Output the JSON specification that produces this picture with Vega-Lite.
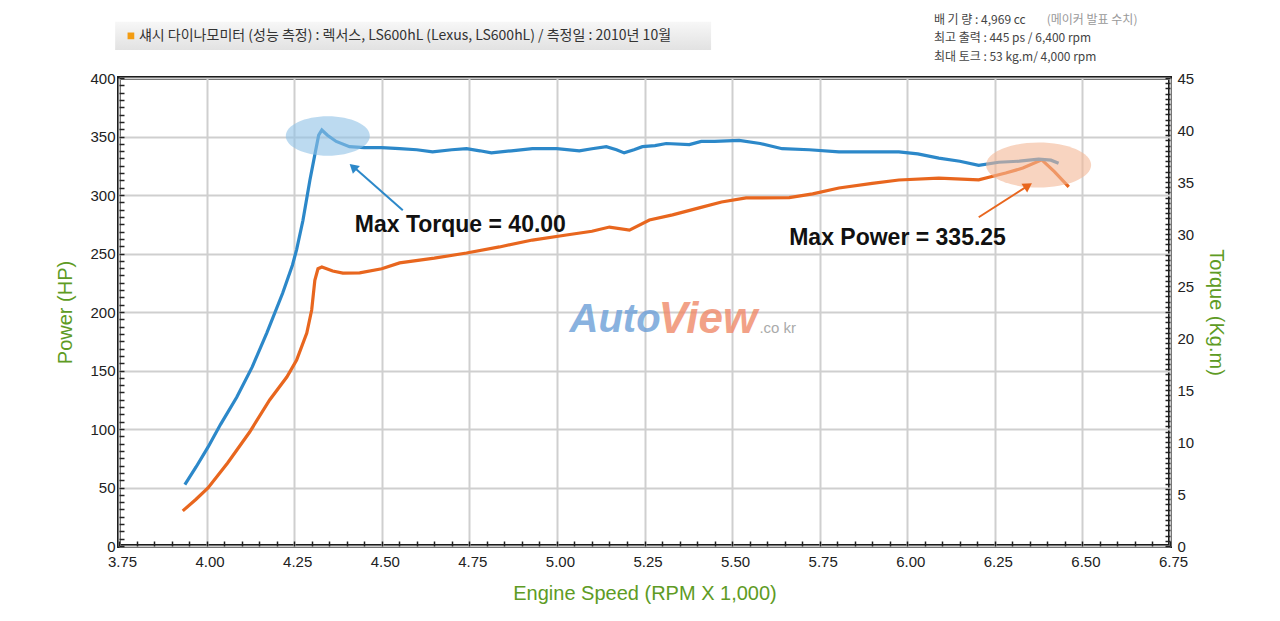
{
  "$schema": "https://vega.github.io/schema/vega-lite/v6.json",
  "width": 1051,
  "height": 468,
  "autosize": "none",
  "padding": {"left": 119, "top": 78, "right": 110, "bottom": 75},
  "background": "white",
  "config": {
    "view": {"stroke": "#1c1c1c", "strokeWidth": 4},
    "font": "Liberation Sans",
    "axis": {
      "labelFont": "Liberation Sans",
      "labelFontSize": 15,
      "labelColor": "#222",
      "labelOverlap": false,
      "labelFlush": false,
      "titleFont": "Liberation Sans",
      "titleFontSize": 20,
      "titleFontWeight": "normal",
      "titleColor": "#5e9b24",
      "domain": false,
      "tickColor": "#222",
      "tickWidth": 1.5,
      "tickSize": -5,
      "gridColor": "#cfcfcf",
      "gridWidth": 2
    }
  },
  "datasets": {
    "torque": [
      {"rpm": 3.938, "torque": 5.9}, {"rpm": 3.97, "torque": 7.6}, {"rpm": 4.004, "torque": 9.5},
      {"rpm": 4.04, "torque": 11.7}, {"rpm": 4.086, "torque": 14.3}, {"rpm": 4.13, "torque": 17.2},
      {"rpm": 4.172, "torque": 20.5}, {"rpm": 4.217, "torque": 24.3}, {"rpm": 4.245, "torque": 27.0},
      {"rpm": 4.257, "torque": 28.5}, {"rpm": 4.275, "torque": 31.3}, {"rpm": 4.295, "torque": 35.2},
      {"rpm": 4.31, "torque": 37.8}, {"rpm": 4.32, "torque": 39.5}, {"rpm": 4.329, "torque": 40.0},
      {"rpm": 4.345, "torque": 39.5}, {"rpm": 4.37, "torque": 38.9}, {"rpm": 4.408, "torque": 38.4},
      {"rpm": 4.45, "torque": 38.3}, {"rpm": 4.5, "torque": 38.3}, {"rpm": 4.551, "torque": 38.2},
      {"rpm": 4.6, "torque": 38.1}, {"rpm": 4.645, "torque": 37.9}, {"rpm": 4.7, "torque": 38.1},
      {"rpm": 4.742, "torque": 38.2}, {"rpm": 4.78, "torque": 38.0}, {"rpm": 4.813, "torque": 37.8},
      {"rpm": 4.87, "torque": 38.0}, {"rpm": 4.93, "torque": 38.2}, {"rpm": 5.0, "torque": 38.2},
      {"rpm": 5.064, "torque": 38.0}, {"rpm": 5.1, "torque": 38.2}, {"rpm": 5.141, "torque": 38.4},
      {"rpm": 5.17, "torque": 38.1}, {"rpm": 5.192, "torque": 37.8}, {"rpm": 5.22, "torque": 38.1},
      {"rpm": 5.244, "torque": 38.4}, {"rpm": 5.28, "torque": 38.5}, {"rpm": 5.312, "torque": 38.7},
      {"rpm": 5.378, "torque": 38.6}, {"rpm": 5.412, "torque": 38.9}, {"rpm": 5.45, "torque": 38.9},
      {"rpm": 5.52, "torque": 39.0}, {"rpm": 5.58, "torque": 38.7}, {"rpm": 5.643, "torque": 38.2},
      {"rpm": 5.72, "torque": 38.1}, {"rpm": 5.805, "torque": 37.9}, {"rpm": 5.9, "torque": 37.9},
      {"rpm": 5.976, "torque": 37.9}, {"rpm": 6.03, "torque": 37.7}, {"rpm": 6.09, "torque": 37.3},
      {"rpm": 6.15, "torque": 37.0}, {"rpm": 6.204, "torque": 36.6}, {"rpm": 6.261, "torque": 36.9},
      {"rpm": 6.32, "torque": 37.0}, {"rpm": 6.375, "torque": 37.2}, {"rpm": 6.41, "torque": 37.1},
      {"rpm": 6.432, "torque": 36.8}
    ],
    "power": [
      {"rpm": 3.932, "hp": 30}, {"rpm": 3.97, "hp": 40}, {"rpm": 4.004, "hp": 49.6},
      {"rpm": 4.06, "hp": 71}, {"rpm": 4.123, "hp": 97.4}, {"rpm": 4.18, "hp": 124.8},
      {"rpm": 4.229, "hp": 144.4}, {"rpm": 4.257, "hp": 159}, {"rpm": 4.286, "hp": 182},
      {"rpm": 4.3, "hp": 201.7}, {"rpm": 4.309, "hp": 227}, {"rpm": 4.318, "hp": 237},
      {"rpm": 4.329, "hp": 238.5}, {"rpm": 4.36, "hp": 235}, {"rpm": 4.389, "hp": 233.3},
      {"rpm": 4.437, "hp": 233.5}, {"rpm": 4.5, "hp": 237}, {"rpm": 4.551, "hp": 242},
      {"rpm": 4.65, "hp": 246}, {"rpm": 4.742, "hp": 250.4}, {"rpm": 4.836, "hp": 255.6},
      {"rpm": 4.93, "hp": 261.5}, {"rpm": 5.027, "hp": 265.8}, {"rpm": 5.1, "hp": 269},
      {"rpm": 5.15, "hp": 272.6}, {"rpm": 5.207, "hp": 270}, {"rpm": 5.264, "hp": 278.6},
      {"rpm": 5.33, "hp": 283}, {"rpm": 5.406, "hp": 289}, {"rpm": 5.47, "hp": 294},
      {"rpm": 5.54, "hp": 297.5}, {"rpm": 5.663, "hp": 297.8}, {"rpm": 5.73, "hp": 301},
      {"rpm": 5.805, "hp": 306}, {"rpm": 5.9, "hp": 310}, {"rpm": 5.976, "hp": 312.8},
      {"rpm": 6.09, "hp": 314.5}, {"rpm": 6.204, "hp": 313}, {"rpm": 6.25, "hp": 316.5},
      {"rpm": 6.281, "hp": 318.8}, {"rpm": 6.33, "hp": 323}, {"rpm": 6.384, "hp": 330},
      {"rpm": 6.42, "hp": 320}, {"rpm": 6.461, "hp": 307}
    ]
  },
  "resolve": {"scale": {"y": "independent"}},
  "layer": [
    {
      "encoding": {
        "x": {
          "field": "rpm", "type": "quantitative",
          "scale": {"domain": [3.75, 6.75], "nice": false, "zero": false},
          "axis": {
            "title": "Engine Speed (RPM X 1,000)",
            "values": [3.75,3.8,3.85,3.9,3.95,4,4.05,4.1,4.15,4.2,4.25,4.3,4.35,4.4,4.45,4.5,4.55,4.6,4.65,4.7,4.75,4.8,4.85,4.9,4.95,5,5.05,5.1,5.15,5.2,5.25,5.3,5.35,5.4,5.45,5.5,5.55,5.6,5.65,5.7,5.75,5.8,5.85,5.9,5.95,6,6.05,6.1,6.15,6.2,6.25,6.3,6.35,6.4,6.45,6.5,6.55,6.6,6.65,6.7,6.75],
            "labelExpr": "round(datum.value*100) % 25 == 0 ? format(datum.value, '.2f') : ''",
            "grid": true,
            "gridOpacity": {"condition": {"test": "round(datum.value*100) % 25 == 0", "value": 1}, "value": 0},
            "labelPadding": 13,
            "labelOffset": 3,
            "titlePadding": 14
          }
        },
        "y": {
          "field": "hp", "type": "quantitative",
          "scale": {"domain": [0, 400], "nice": false},
          "axis": {
            "orient": "left",
            "title": "Power (HP)",
            "values": [0,6.25,12.5,18.75,25,31.25,37.5,43.75,50,56.25,62.5,68.75,75,81.25,87.5,93.75,100,106.25,112.5,118.75,125,131.25,137.5,143.75,150,156.25,162.5,168.75,175,181.25,187.5,193.75,200,206.25,212.5,218.75,225,231.25,237.5,243.75,250,256.25,262.5,268.75,275,281.25,287.5,293.75,300,306.25,312.5,318.75,325,331.25,337.5,343.75,350,356.25,362.5,368.75,375,381.25,387.5,393.75,400],
            "labelExpr": "datum.value % 50 == 0 ? format(datum.value, 'd') : ''",
            "grid": true,
            "gridOpacity": {"condition": {"test": "datum.value % 50 == 0", "value": 1}, "value": 0},
            "labelPadding": 9,
            "titlePadding": 14
          }
        }
      },
      "layer": [
        {
          "data": {"values": [{"rpm": 3.739, "rpm2": 5.44, "hp": 448, "hp2": 424}]},
          "mark": {"type": "rect", "fill": {"gradient": "linear", "x1": 0, "y1": 0, "x2": 0, "y2": 1, "stops": [{"offset": 0, "color": "#f7f7f7"}, {"offset": 1, "color": "#e2e2e2"}]}},
          "encoding": {"x2": {"field": "rpm2"}, "y2": {"field": "hp2"}}
        },
        {
          "data": {"values": [{"rpm": 3.784, "hp": 436}]},
          "mark": {"type": "point", "shape": "square", "filled": true, "color": "#f39c12", "size": 45, "opacity": 1}
        },
        {
          "data": {"values": [{"rpm": 3.807, "hp": 436, "label": "섀시 다이나모미터 (성능 측정)  :  렉서스, LS600hL (Lexus, LS600hL) / 측정일 : 2010년 10월"}]},
          "mark": {"type": "text", "align": "left", "baseline": "middle", "font": "Noto Sans CJK KR", "fontSize": 14, "color": "#333"},
          "encoding": {"text": {"field": "label"}}
        },
        {
          "data": {"values": [
            {"rpm": 6.076, "hp": 449.6, "label": "배  기  량 : 4,969 cc"},
            {"rpm": 6.076, "hp": 434, "label": "최고 출력 : 445 ps / 6,400 rpm"},
            {"rpm": 6.076, "hp": 418, "label": "최대 토크 : 53 kg.m/ 4,000 rpm"}
          ]},
          "mark": {"type": "text", "align": "left", "baseline": "middle", "font": "Noto Sans CJK KR", "fontSize": 12, "color": "#444"},
          "encoding": {"text": {"field": "label"}}
        },
        {
          "data": {"values": [{"rpm": 6.398, "hp": 449.6, "label": "(메이커 발표 수치)"}]},
          "mark": {"type": "text", "align": "left", "baseline": "middle", "font": "Noto Sans CJK KR", "fontSize": 12, "color": "#999"},
          "encoding": {"text": {"field": "label"}}
        },
        {
          "data": {"values": [{"rpm": 5.036, "hp": 193, "label": "Auto"}]},
          "mark": {"type": "text", "align": "left", "baseline": "middle", "fontSize": 40, "fontWeight": "bold", "fontStyle": "italic", "color": "#6c9fd8", "opacity": 0.8},
          "encoding": {"text": {"field": "label"}}
        },
        {
          "data": {"values": [{"rpm": 5.29, "hp": 193, "label": "View"}]},
          "mark": {"type": "text", "align": "left", "baseline": "middle", "fontSize": 44, "fontWeight": "bold", "fontStyle": "italic", "color": "#f08a6a", "opacity": 0.8},
          "encoding": {"text": {"field": "label"}}
        },
        {
          "data": {"values": [{"rpm": 5.578, "hp": 186, "label": ".co kr"}]},
          "mark": {"type": "text", "align": "left", "baseline": "middle", "fontSize": 15, "color": "#aaa"},
          "encoding": {"text": {"field": "label"}}
        },
        {
          "data": {"name": "power"},
          "mark": {"type": "line", "color": "#e8661e", "strokeWidth": 3.2}
        }
      ]
    },
    {
      "data": {"name": "torque"},
      "mark": {"type": "line", "color": "#2c88c9", "strokeWidth": 3.2},
      "encoding": {
        "x": {
          "field": "rpm", "type": "quantitative",
          "scale": {"domain": [3.75, 6.75], "nice": false, "zero": false},
          "axis": {
            "title": "Engine Speed (RPM X 1,000)",
            "values": [3.75,3.8,3.85,3.9,3.95,4,4.05,4.1,4.15,4.2,4.25,4.3,4.35,4.4,4.45,4.5,4.55,4.6,4.65,4.7,4.75,4.8,4.85,4.9,4.95,5,5.05,5.1,5.15,5.2,5.25,5.3,5.35,5.4,5.45,5.5,5.55,5.6,5.65,5.7,5.75,5.8,5.85,5.9,5.95,6,6.05,6.1,6.15,6.2,6.25,6.3,6.35,6.4,6.45,6.5,6.55,6.6,6.65,6.7,6.75],
            "labelExpr": "round(datum.value*100) % 25 == 0 ? format(datum.value, '.2f') : ''",
            "grid": true,
            "gridOpacity": {"condition": {"test": "round(datum.value*100) % 25 == 0", "value": 1}, "value": 0},
            "labelPadding": 13,
            "labelOffset": 3,
            "titlePadding": 14
          }
        },
        "y": {
          "field": "torque", "type": "quantitative",
          "scale": {"domain": [0, 45], "nice": false},
          "axis": {
            "orient": "right",
            "title": "Torque (Kg.m)",
            "tickCount": 90,
            "labelExpr": "datum.value % 5 == 0 ? format(datum.value, 'd') : ''",
            "grid": false,
            "labelPadding": 12,
            "titlePadding": 12
          }
        }
      }
    },
    {
      "encoding": {
        "x": {
          "field": "rpm", "type": "quantitative",
          "scale": {"domain": [3.75, 6.75], "nice": false, "zero": false},
          "axis": {
            "title": "Engine Speed (RPM X 1,000)",
            "values": [3.75,3.8,3.85,3.9,3.95,4,4.05,4.1,4.15,4.2,4.25,4.3,4.35,4.4,4.45,4.5,4.55,4.6,4.65,4.7,4.75,4.8,4.85,4.9,4.95,5,5.05,5.1,5.15,5.2,5.25,5.3,5.35,5.4,5.45,5.5,5.55,5.6,5.65,5.7,5.75,5.8,5.85,5.9,5.95,6,6.05,6.1,6.15,6.2,6.25,6.3,6.35,6.4,6.45,6.5,6.55,6.6,6.65,6.7,6.75],
            "labelExpr": "round(datum.value*100) % 25 == 0 ? format(datum.value, '.2f') : ''",
            "grid": true,
            "gridOpacity": {"condition": {"test": "round(datum.value*100) % 25 == 0", "value": 1}, "value": 0},
            "labelPadding": 13,
            "labelOffset": 3,
            "titlePadding": 14
          }
        },
        "y": {"field": "hp", "type": "quantitative", "scale": {"domain": [0, 400], "nice": false}, "axis": null}
      },
      "layer": [
        {
          "data": {"values": [{"rpm": 4.346, "hp": 350.4}]},
          "mark": {"type": "point", "shape": "M -1 0 A 1 0.47 0 1 1 1 0 A 1 0.47 0 1 1 -1 0 Z", "filled": true, "size": 7056, "color": "#8fc1e6", "opacity": 0.6}
        },
        {
          "data": {"values": [{"rpm": 6.375, "hp": 325.6}]},
          "mark": {"type": "point", "shape": "M -1 0 A 1 0.43 0 1 1 1 0 A 1 0.43 0 1 1 -1 0 Z", "filled": true, "size": 11025, "color": "#f4b896", "opacity": 0.6}
        },
        {
          "data": {"values": [{"rpm": 4.56, "hp": 287, "rpm2": 4.42, "hp2": 324}]},
          "mark": {"type": "rule", "color": "#2c88c9", "strokeWidth": 2},
          "encoding": {"x2": {"field": "rpm2"}, "y2": {"field": "hp2"}}
        },
        {
          "data": {"values": [{"rpm": 4.418, "hp": 324}]},
          "mark": {"type": "point", "shape": "triangle-up", "filled": true, "size": 110, "angle": 312, "color": "#2c88c9", "opacity": 1}
        },
        {
          "data": {"values": [{"rpm": 6.204, "hp": 281, "rpm2": 6.345, "hp2": 308}]},
          "mark": {"type": "rule", "color": "#e8661e", "strokeWidth": 2},
          "encoding": {"x2": {"field": "rpm2"}, "y2": {"field": "hp2"}}
        },
        {
          "data": {"values": [{"rpm": 6.345, "hp": 308}]},
          "mark": {"type": "point", "shape": "triangle-up", "filled": true, "size": 110, "angle": 57, "color": "#e8661e", "opacity": 1}
        },
        {
          "data": {"values": [
            {"rpm": 4.423, "hp": 274.4, "label": "Max Torque = 40.00"},
            {"rpm": 5.663, "hp": 263.2, "label": "Max Power = 335.25"}
          ]},
          "mark": {"type": "text", "align": "left", "baseline": "middle", "fontSize": 23, "fontWeight": "bold", "color": "#111"},
          "encoding": {"text": {"field": "label"}}
        }
      ]
    }
  ]
}
